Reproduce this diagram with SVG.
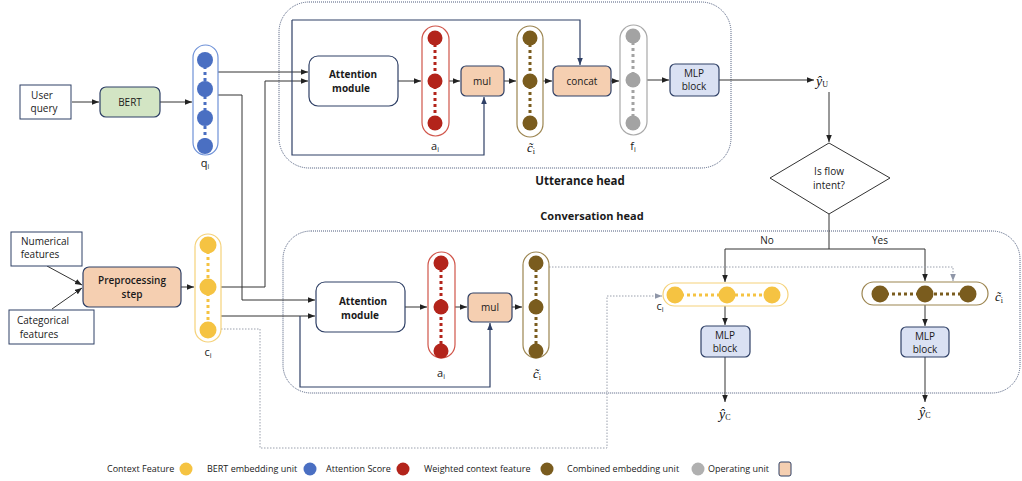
<svg xmlns="http://www.w3.org/2000/svg" width="1022" height="481" viewBox="0 0 1022 481">
<defs>
<style>
.t{font-family:"Open Sans","Liberation Sans",sans-serif;font-size:10px;fill:#1a1a1a;text-anchor:middle}
.b{font-weight:bold}
.lg{font-family:"Open Sans","Liberation Sans",sans-serif;font-size:9px;fill:#1a1a1a}
.m{font-family:"Liberation Serif","DejaVu Serif",serif;font-style:italic;font-size:14px;fill:#111}
.box{fill:#fff;stroke:#2f4066;stroke-width:1.2}
.op{fill:#f5cfb1;stroke:#2f4066;stroke-width:1.2}
.mlp{fill:#dae1f3;stroke:#2f4066;stroke-width:1.2}
.bert{fill:#d3e5c4;stroke:#2f4066;stroke-width:1.2}
.rect{fill:#fff;stroke:#2f4066;stroke-width:1}
.head{fill:none;stroke:#4d5b7c;stroke-width:1;stroke-dasharray:1 1}
.c{fill:none;stroke:#333;stroke-width:1;marker-end:url(#ah)}
.n{fill:none;stroke:#2f4066;stroke-width:1.2;marker-end:url(#ahn)}
.g{fill:none;stroke:#9aa0ad;stroke-width:1;stroke-dasharray:1.5 1.5;marker-end:url(#ahg)}
.pb{fill:#fff;stroke:#6f92d8;stroke-width:1.2}
.pr{fill:#fff;stroke:#d0554a;stroke-width:1.2}
.po{fill:#fff;stroke:#9c8550;stroke-width:1.2}
.pg{fill:#fff;stroke:#a8a8a8;stroke-width:1.2}
.py{fill:#fff;stroke:#f5d27a;stroke-width:1.2}
.cb{fill:#4a6fc2}.cr{fill:#b3241b}.co{fill:#7a5c1e}.cg{fill:#a3a3a3}.cy{fill:#f5c342}
.db{stroke:#4a6fc2;stroke-width:3;stroke-dasharray:3 3}
.dr{stroke:#b3241b;stroke-width:3;stroke-dasharray:3 3}
.do{stroke:#7a5c1e;stroke-width:3;stroke-dasharray:3 3}
.dg{stroke:#a3a3a3;stroke-width:3;stroke-dasharray:3 3}
.dy{stroke:#f5c342;stroke-width:3;stroke-dasharray:3 3}
</style>
<marker id="ah" viewBox="0 0 10 10" refX="10" refY="5" markerWidth="7" markerHeight="7" markerUnits="userSpaceOnUse" orient="auto"><path d="M0,1 L10,5 L0,9 z" fill="#222"/></marker>
<marker id="ahn" viewBox="0 0 10 10" refX="10" refY="5" markerWidth="7" markerHeight="7" markerUnits="userSpaceOnUse" orient="auto"><path d="M0,1 L10,5 L0,9 z" fill="#2f4066"/></marker>
<marker id="ahg" viewBox="0 0 10 10" refX="10" refY="5" markerWidth="7" markerHeight="7" markerUnits="userSpaceOnUse" orient="auto"><path d="M0,1 L10,5 L0,9 z" fill="#8f96a8"/></marker>
</defs>
<rect width="1022" height="481" fill="#fff"/>

<g id="utterance-head">
<rect class="head" x="279" y="2" width="452" height="166" rx="30"/>
<text class="t b" x="580" y="185" style="font-size:11.5px">Utterance head</text>
</g>
<g id="conversation-head">
<rect class="head" x="283" y="231" width="737" height="162" rx="28"/>
<text class="t b" x="592" y="220" style="font-size:11px">Conversation head</text>
</g>

<g id="connectors">
<path class="c" d="M72 102 H99"/>
<path class="c" d="M160 102 H192"/>
<path class="c" d="M218 72 H308"/>
<path class="c" d="M218 95 H242 V300 H315"/>
<path class="c" d="M221 287 H265 V81 H308"/>
<path class="c" d="M221 316 H315"/>
<path class="n" d="M300 316 V387 H490 V323"/>
<path class="n" d="M292 20 V155 H484 V97"/>
<path class="n" d="M292 20 H580 V65"/>
<path class="c" d="M398 81 H421"/>
<path class="c" d="M449 81 H460"/>
<path class="c" d="M504 81 H516"/>
<path class="c" d="M543 81 H552"/>
<path class="c" d="M611 81 H619"/>
<path class="c" d="M647 80 H669"/>
<path class="c" d="M719 80 H814"/>
<path class="c" d="M829 92 V142"/>
<path fill="none" stroke="#333" d="M829 214 V249 M725 249 H925"/>
<path class="c" d="M725 249 V282"/>
<path class="c" d="M925 249 V281"/>
<path class="c" d="M725 306 V325"/>
<path class="c" d="M925 305 V326"/>
<path class="c" d="M725 357 V402"/>
<path class="c" d="M925 357 V402"/>
<path class="c" d="M47 266 L82 285"/>
<path class="c" d="M52 309 L82 288"/>
<path class="c" d="M181 287 H194"/>
<path class="c" d="M405 307 H427"/>
<path class="c" d="M455 307 H467"/>
<path class="c" d="M512 307 H522"/>
<path class="g" d="M549 267 H953 V281"/>
<path class="g" d="M221 329 H260 V448 H607 V296 H662"/>
</g>

<g id="user-query">
<rect class="rect" x="20" y="85" width="51" height="34"/>
<text class="t" x="42" y="99">User</text>
<text class="t" x="44" y="112">query</text>
</g>
<g id="bert">
<rect class="bert" x="100" y="87" width="60" height="30" rx="6"/>
<text class="t" x="130" y="106">BERT</text>
</g>
<g id="q-i">
<rect class="pb" x="193" y="45" width="25" height="110" rx="12.5"/>
<line class="db" x1="205" y1="60" x2="205" y2="146"/>
<circle class="cb" cx="205" cy="60" r="8"/>
<circle class="cb" cx="205" cy="89" r="8"/>
<circle class="cb" cx="205" cy="118" r="8"/>
<circle class="cb" cx="205" cy="146" r="8"/>
<text class="t" x="205" y="167" style="font-size:11px">q<tspan font-size="7" dy="2">i</tspan></text>
</g>

<g id="numerical-features">
<rect class="rect" x="11" y="232" width="71" height="34"/>
<text class="t" x="45" y="245">Numerical</text>
<text class="t" x="40" y="258">features</text>
</g>
<g id="categorical-features">
<rect class="rect" x="9" y="310" width="85" height="34"/>
<text class="t" x="43" y="324">Categorical</text>
<text class="t" x="39" y="338">features</text>
</g>
<g id="preprocessing-step">
<rect class="op" x="83" y="267" width="98" height="40" rx="6"/>
<text class="t" x="132" y="284" style="font-weight:600">Preprocessing</text>
<text class="t" x="132" y="298" style="font-weight:600">step</text>
</g>
<g id="c-i-left">
<rect class="py" x="195" y="234" width="26" height="108" rx="13"/>
<line class="dy" x1="208" y1="245" x2="208" y2="330"/>
<circle class="cy" cx="208" cy="245" r="8.5"/>
<circle class="cy" cx="208" cy="287" r="8.5"/>
<circle class="cy" cx="208" cy="330" r="8.5"/>
<text class="t" x="208" y="356" style="font-size:11px">c<tspan font-size="7" dy="2">i</tspan></text>
</g>

<g id="attention-module-u">
<rect class="box" x="309" y="56" width="89" height="50" rx="9"/>
<text class="t b" x="353" y="78">Attention</text>
<text class="t b" x="351" y="92">module</text>
</g>
<g id="a-i-u">
<rect class="pr" x="422" y="26" width="27" height="110" rx="13.5"/>
<line class="dr" x1="435" y1="38" x2="435" y2="123"/>
<circle class="cr" cx="435" cy="38" r="7.5"/>
<circle class="cr" cx="435" cy="81" r="7.5"/>
<circle class="cr" cx="435" cy="123" r="7.5"/>
<text class="t" x="435" y="150" style="font-size:11px">a<tspan font-size="7" dy="2">i</tspan></text>
</g>
<g id="mul-u">
<rect class="op" x="461" y="66" width="43" height="30" rx="5"/>
<text class="t" x="482" y="85">mul</text>
</g>
<g id="c-tilde-u">
<rect class="po" x="517" y="26" width="26" height="111" rx="13"/>
<line class="do" x1="530" y1="38" x2="530" y2="123"/>
<circle class="co" cx="530" cy="38" r="7.5"/>
<circle class="co" cx="530" cy="81" r="7.5"/>
<circle class="co" cx="530" cy="123" r="7.5"/>
<text class="m" x="527" y="152" style="font-size:13px">c̃<tspan font-style="normal" font-size="8" dy="2">i</tspan></text>
</g>
<g id="concat">
<rect class="op" x="553" y="66" width="58" height="30" rx="5"/>
<text class="t" x="582" y="85">concat</text>
</g>
<g id="f-i">
<rect class="pg" x="620" y="25" width="27" height="110" rx="13.5"/>
<line class="dg" x1="633" y1="36" x2="633" y2="123"/>
<circle class="cg" cx="633" cy="36" r="7.5"/>
<circle class="cg" cx="633" cy="80" r="7.5"/>
<circle class="cg" cx="633" cy="123" r="7.5"/>
<text class="t" x="633" y="150" style="font-size:11px">f<tspan font-size="7" dy="2">i</tspan></text>
</g>
<g id="mlp-u">
<rect class="mlp" x="670" y="64" width="49" height="32" rx="5"/>
<text class="t" x="694" y="77">MLP</text>
<text class="t" x="694" y="90">block</text>
</g>
<g id="y-hat-u">
<text class="m" x="816" y="86">ŷ<tspan font-style="normal" font-size="8" dy="1">U</tspan></text>
</g>
<g id="is-flow-intent">
<path d="M829 143 L890 178 L829 214 L770 178 Z" fill="#fff" stroke="#333" stroke-width="1"/>
<text class="t" x="829" y="175">Is flow</text>
<text class="t" x="829" y="189">intent?</text>
<text class="t" x="767" y="244">No</text>
<text class="t" x="880" y="244">Yes</text>
</g>

<g id="attention-module-c">
<rect class="box" x="316" y="282" width="89" height="50" rx="9"/>
<text class="t b" x="363" y="305">Attention</text>
<text class="t b" x="360" y="319">module</text>
</g>
<g id="a-i-c">
<rect class="pr" x="428" y="252" width="27" height="106" rx="13.5"/>
<line class="dr" x1="441" y1="263" x2="441" y2="351"/>
<circle class="cr" cx="441" cy="263" r="7.5"/>
<circle class="cr" cx="441" cy="307" r="7.5"/>
<circle class="cr" cx="441" cy="351" r="7.5"/>
<text class="t" x="441" y="377" style="font-size:11px">a<tspan font-size="7" dy="2">i</tspan></text>
</g>
<g id="mul-c">
<rect class="op" x="468" y="293" width="44" height="29" rx="5"/>
<text class="t" x="490" y="311">mul</text>
</g>
<g id="c-tilde-c">
<rect class="po" x="523" y="252" width="26" height="106" rx="13"/>
<line class="do" x1="536" y1="263" x2="536" y2="351"/>
<circle class="co" cx="536" cy="263" r="7.5"/>
<circle class="co" cx="536" cy="307" r="7.5"/>
<circle class="co" cx="536" cy="351" r="7.5"/>
<text class="m" x="533" y="378" style="font-size:13px">c̃<tspan font-style="normal" font-size="8" dy="2">i</tspan></text>
</g>

<g id="c-i-no">
<rect class="py" x="663" y="283" width="125" height="23" rx="11.5"/>
<line class="dy" x1="675" y1="295" x2="772" y2="295"/>
<circle class="cy" cx="675" cy="295" r="8.5"/>
<circle class="cy" cx="727" cy="295" r="8.5"/>
<circle class="cy" cx="772" cy="295" r="8.5"/>
<text class="t" x="660" y="310" style="font-size:11px">c<tspan font-size="7" dy="2">i</tspan></text>
</g>
<g id="c-tilde-yes">
<rect class="po" x="862" y="282" width="126" height="23" rx="11.5"/>
<line class="do" x1="880" y1="294" x2="968" y2="294"/>
<circle class="co" cx="880" cy="294" r="8.5"/>
<circle class="co" cx="925" cy="294" r="8.5"/>
<circle class="co" cx="968" cy="294" r="8.5"/>
<text class="m" x="995" y="301" style="font-size:13px">c̃<tspan font-style="normal" font-size="8" dy="2">i</tspan></text>
</g>
<g id="mlp-no">
<rect class="mlp" x="701" y="326" width="49" height="31" rx="5"/>
<text class="t" x="725" y="339">MLP</text>
<text class="t" x="725" y="352">block</text>
</g>
<g id="mlp-yes">
<rect class="mlp" x="901" y="327" width="48" height="30" rx="5"/>
<text class="t" x="925" y="340">MLP</text>
<text class="t" x="925" y="353">block</text>
</g>
<g id="y-hat-c-no">
<text class="m" x="719" y="419">ŷ<tspan font-style="normal" font-size="8" dy="1">C</tspan></text>
</g>
<g id="y-hat-c-yes">
<text class="m" x="919" y="417">ŷ<tspan font-style="normal" font-size="8" dy="1">C</tspan></text>
</g>

<g id="legend">
<text class="lg" x="107" y="472">Context Feature</text>
<circle class="cy" cx="186" cy="469" r="6.5"/>
<text class="lg" x="207" y="472">BERT embedding unit</text>
<circle class="cb" cx="310" cy="469" r="6.5"/>
<text class="lg" x="326" y="472">Attention Score</text>
<circle class="cr" cx="403" cy="469" r="6.5"/>
<text class="lg" x="424" y="472">Weighted context feature</text>
<circle class="co" cx="547" cy="469" r="6.5"/>
<text class="lg" x="567" y="472">Combined embedding unit</text>
<circle cx="698" cy="469" r="6.5" fill="#b0b0b0"/>
<text class="lg" x="708" y="472">Operating unit</text>
<rect x="779" y="462" width="12" height="14" rx="2" fill="#f5cfb1" stroke="#2f4066" stroke-width="1"/>
</g>
</svg>
